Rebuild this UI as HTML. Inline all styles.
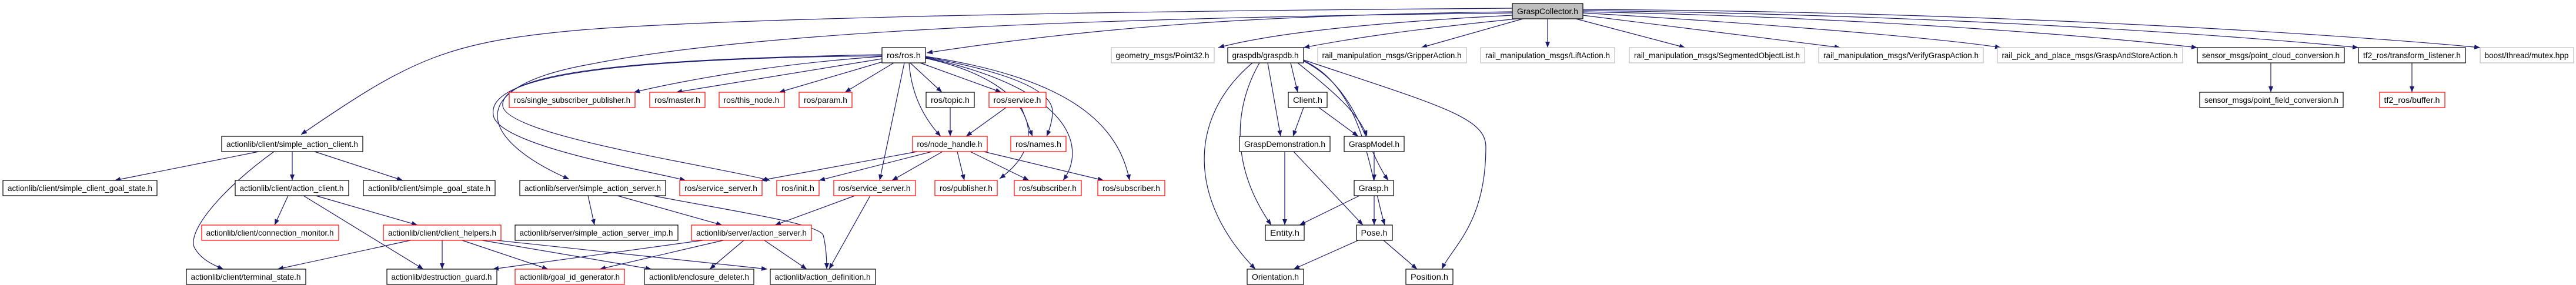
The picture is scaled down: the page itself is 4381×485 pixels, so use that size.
<!DOCTYPE html>
<html><head><meta charset="utf-8"><style>
html,body{margin:0;padding:0;background:#fff;}
svg{display:block;}
text{font-family:"Liberation Sans",Arial,sans-serif;font-size:14px;fill:#000;}
</style></head><body>
<svg width="4381" height="485" viewBox="0 0 4381 485" xmlns="http://www.w3.org/2000/svg">
<defs>
<marker id="a" viewBox="0 0 10 8" refX="10" refY="4" markerWidth="10" markerHeight="8" markerUnits="userSpaceOnUse" orient="auto">
<path d="M0,0 L10,4 L0,8 z" fill="#191970"/></marker>
</defs>
<g fill="none" stroke="#191970" stroke-width="1.2" marker-end="url(#a)">
<!-- GraspCollector -->
<path d="M2572,14 C2000,18 1300,28 1000,50 C760,70 700,100 512,229"/>
<path d="M2572,20 C2200,25 1900,40 1576,90"/>
<path d="M2572,22 C1900,30 1300,50 1000,110 C780,150 820,240 968,305"/>
<path d="M2572,26 C2300,40 2150,60 2072,81"/>
<path d="M2580,32 C2400,50 2300,65 2217,81"/>
<path d="M2590,32 L2417,81"/>
<path d="M2632,32 L2632,81"/>
<path d="M2680,32 L2866,81"/>
<path d="M2692,26 L3130,81"/>
<path d="M2692,22 C3000,40 3300,65 3403,81"/>
<path d="M2692,20 C3200,30 3600,65 3737,81"/>
<path d="M2692,18 C3300,25 3800,60 4011,81"/>
<path d="M2692,16 C3400,20 4000,60 4218,81"/>
<!-- ros.h -->
<path d="M1500,96 C1300,110 1150,140 1078,157"/>
<path d="M1500,100 L1150,157"/>
<path d="M1505,104 L1325,157"/>
<path d="M1520,107 L1437,157"/>
<path d="M1548,107 L1602,157"/>
<path d="M1565,107 L1703,157"/>
<path d="M1546,107 C1550,160 1570,200 1600,232"/>
<path d="M1574,97 C1700,120 1790,150 1790,190 C1790,205 1785,220 1780,232"/>
<path d="M1538,107 L1496,307"/>
<path d="M1574,99 C1760,140 1790,240 1700,304"/>
<path d="M1574,98 C1820,150 1850,250 1808,307"/>
<path d="M1574,96 C1800,130 1900,200 1921,307"/>
<path d="M1500,93 C1100,100 850,120 855,180 C860,230 1200,280 1310,307"/>
<path d="M1500,95 C1000,100 820,135 840,200 C860,250 1100,290 1166,307"/>
<path d="M1616,183 L1616,232"/>
<path d="M1711,183 L1643,232"/>
<path d="M1737,183 L1756,232"/>
<!-- node_handle -->
<path d="M1560,258 L1294,307"/>
<path d="M1585,258 L1393,307"/>
<path d="M1603,258 L1517,307"/>
<path d="M1628,258 L1640,307"/>
<path d="M1650,258 L1750,307"/>
<path d="M1673,258 L1877,307"/>
<!-- simple_action_server -->
<path d="M1000,333 L1011,383"/>
<path d="M1050,333 L1228,383"/>
<path d="M1110,333 C1250,360 1390,380 1400,400 C1405,420 1406,440 1406,458"/>
<path d="M1454,333 L1318,383"/>
<path d="M1480,333 L1410,458"/>
<!-- action_server -->
<path d="M1195,409 L838,458"/>
<path d="M1230,409 L1020,458"/>
<path d="M1265,409 L1207,458"/>
<path d="M1300,409 L1372,458"/>
<!-- client_helpers -->
<path d="M698,409 L472,458"/>
<path d="M752,409 L752,458"/>
<path d="M786,409 L932,458"/>
<path d="M820,409 L1108,458"/>
<path d="M845,409 L1305,458"/>
<!-- action_client -->
<path d="M490,333 L467,383"/>
<path d="M537,333 L710,383"/>
<path d="M516,333 L720,458"/>
<!-- simple_action_client -->
<path d="M440,258 L195,307"/>
<path d="M497,258 L497,307"/>
<path d="M535,258 L685,307"/>
<path d="M466,258 C380,320 320,390 330,420 C340,440 360,450 380,458"/>
<!-- graspdb -->
<path d="M2195,107 L2207,157"/>
<path d="M2156,107 L2178,232"/>
<path d="M2207,107 C2260,150 2310,190 2325,232"/>
<path d="M2217,104 C2310,150 2320,250 2361,307"/>
<path d="M2217,103 C2320,150 2330,300 2355,383"/>
<path d="M2217,102 C2450,180 2527,200 2527,250 C2527,380 2470,420 2452,458"/>
<path d="M2142,107 C2100,180 2090,280 2162,383"/>
<path d="M2130,107 C2020,200 2020,340 2135,458"/>
<path d="M2217,183 L2199,232"/>
<path d="M2243,183 L2310,232"/>
<path d="M2185,258 L2185,383"/>
<path d="M2200,258 L2318,383"/>
<path d="M2337,258 L2337,307"/>
<path d="M2312,333 L2210,383"/>
<path d="M2337,333 L2337,383"/>
<path d="M2310,409 L2200,458"/>
<path d="M2353,409 L2410,458"/>
<path d="M3862,107 L3862,157"/>
<path d="M4102,107 L4102,157"/>
</g>
<g stroke-width="1.2">
<!-- nodes: rect + text -->
<rect x="2572" y="6" width="120" height="26" fill="#bfbfbf" stroke="#000"/><text x="2632" y="24" text-anchor="middle" textLength="104" lengthAdjust="spacingAndGlyphs">GraspCollector.h</text>

<rect x="1500" y="81" width="74" height="26" fill="#fff" stroke="#000"/><text x="1537" y="99" text-anchor="middle" textLength="58" lengthAdjust="spacingAndGlyphs">ros/ros.h</text>
<rect x="1890" y="81" width="175" height="26" fill="#fff" stroke="#bfbfbf"/><text x="1977" y="99" text-anchor="middle" textLength="159" lengthAdjust="spacingAndGlyphs">geometry_msgs/Point32.h</text>
<rect x="2088" y="81" width="129" height="26" fill="#fff" stroke="#000"/><text x="2152" y="99" text-anchor="middle" textLength="113" lengthAdjust="spacingAndGlyphs">graspdb/graspdb.h</text>
<rect x="2241" y="81" width="253" height="26" fill="#fff" stroke="#bfbfbf"/><text x="2367" y="99" text-anchor="middle" textLength="237" lengthAdjust="spacingAndGlyphs">rail_manipulation_msgs/GripperAction.h</text>
<rect x="2518" y="81" width="228" height="26" fill="#fff" stroke="#bfbfbf"/><text x="2632" y="99" text-anchor="middle" textLength="212" lengthAdjust="spacingAndGlyphs">rail_manipulation_msgs/LiftAction.h</text>
<rect x="2771" y="81" width="298" height="26" fill="#fff" stroke="#bfbfbf"/><text x="2920" y="99" text-anchor="middle" textLength="282" lengthAdjust="spacingAndGlyphs">rail_manipulation_msgs/SegmentedObjectList.h</text>
<rect x="3093" y="81" width="280" height="26" fill="#fff" stroke="#bfbfbf"/><text x="3233" y="99" text-anchor="middle" textLength="264" lengthAdjust="spacingAndGlyphs">rail_manipulation_msgs/VerifyGraspAction.h</text>
<rect x="3397" y="81" width="315" height="26" fill="#fff" stroke="#bfbfbf"/><text x="3554" y="99" text-anchor="middle" textLength="299" lengthAdjust="spacingAndGlyphs">rail_pick_and_place_msgs/GraspAndStoreAction.h</text>
<rect x="3737" y="81" width="250" height="26" fill="#fff" stroke="#000"/><text x="3862" y="99" text-anchor="middle" textLength="234" lengthAdjust="spacingAndGlyphs">sensor_msgs/point_cloud_conversion.h</text>
<rect x="4011" y="81" width="182" height="26" fill="#fff" stroke="#000"/><text x="4102" y="99" text-anchor="middle" textLength="166" lengthAdjust="spacingAndGlyphs">tf2_ros/transform_listener.h</text>
<rect x="4218" y="81" width="159" height="26" fill="#fff" stroke="#bfbfbf"/><text x="4297" y="99" text-anchor="middle" textLength="143" lengthAdjust="spacingAndGlyphs">boost/thread/mutex.hpp</text>

<rect x="866" y="157" width="214" height="26" fill="#fff" stroke="#f00"/><text x="973" y="175" text-anchor="middle" textLength="198" lengthAdjust="spacingAndGlyphs">ros/single_subscriber_publisher.h</text>
<rect x="1105" y="157" width="94" height="26" fill="#fff" stroke="#f00"/><text x="1152" y="175" text-anchor="middle" textLength="78" lengthAdjust="spacingAndGlyphs">ros/master.h</text>
<rect x="1223" y="157" width="111" height="26" fill="#fff" stroke="#f00"/><text x="1278" y="175" text-anchor="middle" textLength="95" lengthAdjust="spacingAndGlyphs">ros/this_node.h</text>
<rect x="1359" y="157" width="90" height="26" fill="#fff" stroke="#f00"/><text x="1404" y="175" text-anchor="middle" textLength="74" lengthAdjust="spacingAndGlyphs">ros/param.h</text>
<rect x="1575" y="157" width="82" height="26" fill="#fff" stroke="#000"/><text x="1616" y="175" text-anchor="middle" textLength="66" lengthAdjust="spacingAndGlyphs">ros/topic.h</text>
<rect x="1682" y="157" width="97" height="26" fill="#fff" stroke="#f00"/><text x="1730" y="175" text-anchor="middle" textLength="81" lengthAdjust="spacingAndGlyphs">ros/service.h</text>
<rect x="2191" y="157" width="66" height="26" fill="#fff" stroke="#000"/><text x="2224" y="175" text-anchor="middle" textLength="50" lengthAdjust="spacingAndGlyphs">Client.h</text>
<rect x="3741" y="157" width="244" height="26" fill="#fff" stroke="#000"/><text x="3863" y="175" text-anchor="middle" textLength="228" lengthAdjust="spacingAndGlyphs">sensor_msgs/point_field_conversion.h</text>
<rect x="4047" y="157" width="111" height="26" fill="#fff" stroke="#f00"/><text x="4102" y="175" text-anchor="middle" textLength="95" lengthAdjust="spacingAndGlyphs">tf2_ros/buffer.h</text>

<rect x="377" y="232" width="240" height="26" fill="#fff" stroke="#000"/><text x="497" y="250" text-anchor="middle" textLength="224" lengthAdjust="spacingAndGlyphs">actionlib/client/simple_action_client.h</text>
<rect x="1552" y="232" width="127" height="26" fill="#fff" stroke="#f00"/><text x="1615" y="250" text-anchor="middle" textLength="111" lengthAdjust="spacingAndGlyphs">ros/node_handle.h</text>
<rect x="1719" y="232" width="94" height="26" fill="#fff" stroke="#f00"/><text x="1766" y="250" text-anchor="middle" textLength="78" lengthAdjust="spacingAndGlyphs">ros/names.h</text>
<rect x="2108" y="232" width="154" height="26" fill="#fff" stroke="#000"/><text x="2185" y="250" text-anchor="middle" textLength="138" lengthAdjust="spacingAndGlyphs">GraspDemonstration.h</text>
<rect x="2286" y="232" width="102" height="26" fill="#fff" stroke="#000"/><text x="2337" y="250" text-anchor="middle" textLength="86" lengthAdjust="spacingAndGlyphs">GraspModel.h</text>

<rect x="5" y="307" width="262" height="26" fill="#fff" stroke="#000"/><text x="136" y="325" text-anchor="middle" textLength="246" lengthAdjust="spacingAndGlyphs">actionlib/client/simple_client_goal_state.h</text>
<rect x="400" y="307" width="193" height="26" fill="#fff" stroke="#000"/><text x="496" y="325" text-anchor="middle" textLength="177" lengthAdjust="spacingAndGlyphs">actionlib/client/action_client.h</text>
<rect x="618" y="307" width="224" height="26" fill="#fff" stroke="#000"/><text x="730" y="325" text-anchor="middle" textLength="208" lengthAdjust="spacingAndGlyphs">actionlib/client/simple_goal_state.h</text>
<rect x="884" y="307" width="248" height="26" fill="#fff" stroke="#000"/><text x="1008" y="325" text-anchor="middle" textLength="232" lengthAdjust="spacingAndGlyphs">actionlib/server/simple_action_server.h</text>
<rect x="1156" y="307" width="140" height="26" fill="#fff" stroke="#f00"/><text x="1226" y="325" text-anchor="middle" textLength="124" lengthAdjust="spacingAndGlyphs">ros/service_server.h</text>
<rect x="1321" y="307" width="72" height="26" fill="#fff" stroke="#f00"/><text x="1357" y="325" text-anchor="middle" textLength="56" lengthAdjust="spacingAndGlyphs">ros/init.h</text>
<rect x="1418" y="307" width="139" height="26" fill="#fff" stroke="#f00"/><text x="1487" y="325" text-anchor="middle" textLength="123" lengthAdjust="spacingAndGlyphs">ros/service_server.h</text>
<rect x="1590" y="307" width="106" height="26" fill="#fff" stroke="#f00"/><text x="1643" y="325" text-anchor="middle" textLength="90" lengthAdjust="spacingAndGlyphs">ros/publisher.h</text>
<rect x="1725" y="307" width="114" height="26" fill="#fff" stroke="#f00"/><text x="1782" y="325" text-anchor="middle" textLength="98" lengthAdjust="spacingAndGlyphs">ros/subscriber.h</text>
<rect x="1867" y="307" width="114" height="26" fill="#fff" stroke="#f00"/><text x="1924" y="325" text-anchor="middle" textLength="98" lengthAdjust="spacingAndGlyphs">ros/subscriber.h</text>
<rect x="2303" y="307" width="67" height="26" fill="#fff" stroke="#000"/><text x="2336" y="325" text-anchor="middle" textLength="51" lengthAdjust="spacingAndGlyphs">Grasp.h</text>

<rect x="343" y="383" width="233" height="26" fill="#fff" stroke="#f00"/><text x="459" y="401" text-anchor="middle" textLength="217" lengthAdjust="spacingAndGlyphs">actionlib/client/connection_monitor.h</text>
<rect x="652" y="383" width="200" height="26" fill="#fff" stroke="#f00"/><text x="752" y="401" text-anchor="middle" textLength="184" lengthAdjust="spacingAndGlyphs">actionlib/client/client_helpers.h</text>
<rect x="876" y="383" width="277" height="26" fill="#fff" stroke="#000"/><text x="1014" y="401" text-anchor="middle" textLength="261" lengthAdjust="spacingAndGlyphs">actionlib/server/simple_action_server_imp.h</text>
<rect x="1176" y="383" width="204" height="26" fill="#fff" stroke="#f00"/><text x="1278" y="401" text-anchor="middle" textLength="188" lengthAdjust="spacingAndGlyphs">actionlib/server/action_server.h</text>
<rect x="2152" y="383" width="66" height="26" fill="#fff" stroke="#000"/><text x="2185" y="401" text-anchor="middle" textLength="50" lengthAdjust="spacingAndGlyphs">Entity.h</text>
<rect x="2307" y="383" width="61" height="26" fill="#fff" stroke="#000"/><text x="2337" y="401" text-anchor="middle" textLength="45" lengthAdjust="spacingAndGlyphs">Pose.h</text>

<rect x="317" y="458" width="203" height="26" fill="#fff" stroke="#000"/><text x="418" y="476" text-anchor="middle" textLength="187" lengthAdjust="spacingAndGlyphs">actionlib/client/terminal_state.h</text>
<rect x="658" y="458" width="187" height="26" fill="#fff" stroke="#000"/><text x="751" y="476" text-anchor="middle" textLength="171" lengthAdjust="spacingAndGlyphs">actionlib/destruction_guard.h</text>
<rect x="876" y="458" width="186" height="26" fill="#fff" stroke="#f00"/><text x="969" y="476" text-anchor="middle" textLength="170" lengthAdjust="spacingAndGlyphs">actionlib/goal_id_generator.h</text>
<rect x="1096" y="458" width="186" height="26" fill="#fff" stroke="#000"/><text x="1189" y="476" text-anchor="middle" textLength="170" lengthAdjust="spacingAndGlyphs">actionlib/enclosure_deleter.h</text>
<rect x="1310" y="458" width="179" height="26" fill="#fff" stroke="#000"/><text x="1399" y="476" text-anchor="middle" textLength="163" lengthAdjust="spacingAndGlyphs">actionlib/action_definition.h</text>
<rect x="2121" y="458" width="96" height="26" fill="#fff" stroke="#000"/><text x="2169" y="476" text-anchor="middle" textLength="80" lengthAdjust="spacingAndGlyphs">Orientation.h</text>
<rect x="2391" y="458" width="80" height="26" fill="#fff" stroke="#000"/><text x="2431" y="476" text-anchor="middle" textLength="64" lengthAdjust="spacingAndGlyphs">Position.h</text>
</g>
</svg>
</body></html>
